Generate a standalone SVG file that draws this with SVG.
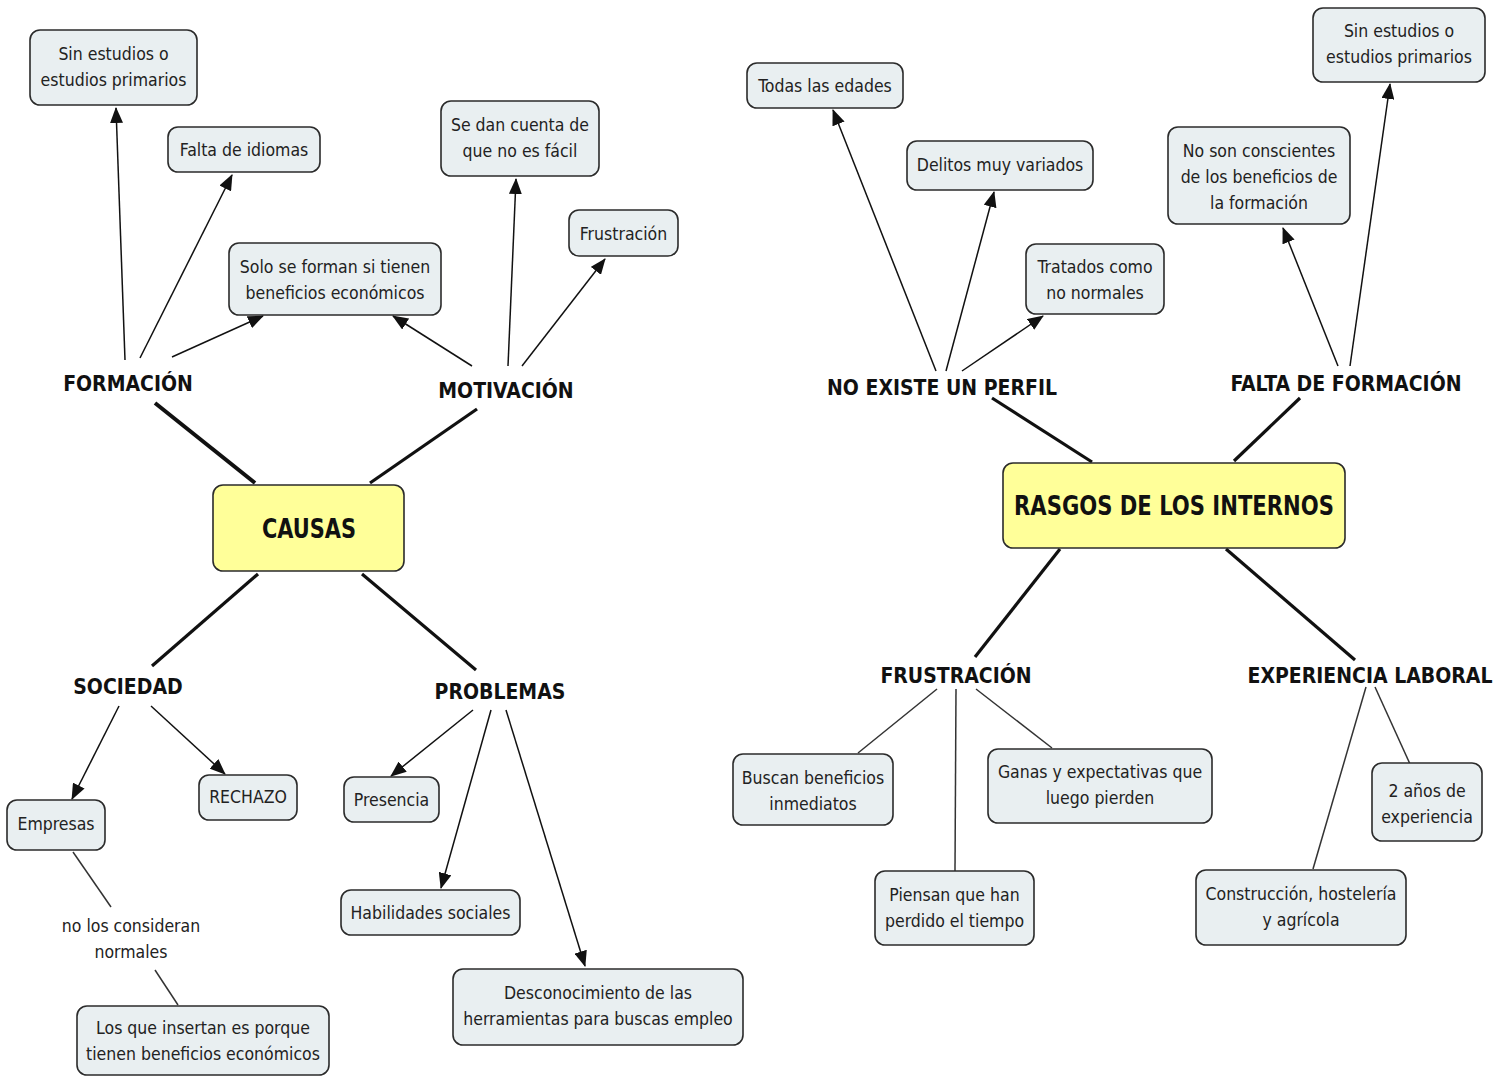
<svg xmlns="http://www.w3.org/2000/svg" width="1505" height="1077" viewBox="0 0 1505 1077">
  <style>
    .box { fill: #e9eff1; stroke: #2b2b2b; stroke-width: 1.6; }
    .main { fill: #ffff99; stroke: #2b2b2b; stroke-width: 1.6; }
    .t { font-family: "DejaVu Sans Condensed", "DejaVu Sans", sans-serif; font-stretch: condensed; font-size: 17.5px; fill: #222; text-anchor: middle; }
    .lbl { font-family: "DejaVu Sans Condensed", "DejaVu Sans", sans-serif; font-stretch: condensed; font-weight: bold; font-size: 21px; fill: #111; text-anchor: middle; }
    .big { font-family: "DejaVu Sans Condensed", "DejaVu Sans", sans-serif; font-stretch: condensed; font-weight: bold; font-size: 27px; fill: #111; text-anchor: middle; }
    .thick { stroke: #111; stroke-width: 3.2; fill: none; }
    .arr { stroke: #111; stroke-width: 1.5; fill: none; marker-end: url(#ah); }
    .thin { stroke: #333; stroke-width: 1.5; fill: none; }
  </style>
  <defs>
    <marker id="ah" viewBox="0 0 16 13" refX="15" refY="6.5" markerWidth="16" markerHeight="13" markerUnits="userSpaceOnUse" orient="auto">
      <path d="M0,0 L16,6.5 L0,13 Z" fill="#111"/>
    </marker>
  </defs>
  <rect width="1505" height="1077" fill="#ffffff"/>

  <g id="connectors">
    <!-- CAUSAS branches -->
    <line class="thick" x1="255" y1="483" x2="155" y2="403" style="stroke-width:4"/>
    <line class="thick" x1="370" y1="483" x2="477" y2="409"/>
    <line class="thick" x1="258" y1="574" x2="152" y2="666"/>
    <line class="thick" x1="362" y1="574" x2="476" y2="670"/>
    <!-- FORMACIÓN -->
    <line class="arr" x1="125" y1="360" x2="116" y2="108"/>
    <line class="arr" x1="140" y1="358" x2="232" y2="175"/>
    <line class="arr" x1="172" y1="357" x2="263" y2="316"/>
    <!-- MOTIVACIÓN -->
    <line class="arr" x1="472" y1="366" x2="393" y2="316"/>
    <line class="arr" x1="508" y1="366" x2="516" y2="179"/>
    <line class="arr" x1="522" y1="366" x2="605" y2="259"/>
    <!-- SOCIEDAD -->
    <line class="arr" x1="119" y1="706" x2="72" y2="799"/>
    <line class="arr" x1="151" y1="706" x2="225" y2="774"/>
    <line class="thin" x1="73" y1="852" x2="111" y2="907"/>
    <line class="thin" x1="155" y1="970" x2="178" y2="1005"/>
    <!-- PROBLEMAS -->
    <line class="arr" x1="473" y1="710" x2="391" y2="776"/>
    <line class="arr" x1="491" y1="710" x2="441" y2="888"/>
    <line class="arr" x1="506" y1="710" x2="585" y2="966"/>

    <!-- RASGOS branches -->
    <line class="thick" x1="1092" y1="462" x2="992" y2="398"/>
    <line class="thick" x1="1234" y1="461" x2="1300" y2="398"/>
    <line class="thick" x1="1060" y1="549" x2="975" y2="657"/>
    <line class="thick" x1="1226" y1="549" x2="1355" y2="660"/>
    <!-- NO EXISTE UN PERFIL -->
    <line class="arr" x1="936" y1="371" x2="833" y2="110"/>
    <line class="arr" x1="946" y1="371" x2="994" y2="192"/>
    <line class="arr" x1="962" y1="371" x2="1043" y2="316"/>
    <!-- FALTA DE FORMACIÓN -->
    <line class="arr" x1="1338" y1="366" x2="1283" y2="228"/>
    <line class="arr" x1="1350" y1="366" x2="1390" y2="84"/>
    <!-- FRUSTRACIÓN -->
    <line class="thin" x1="937" y1="689" x2="858" y2="753"/>
    <line class="thin" x1="956" y1="689" x2="955" y2="871"/>
    <line class="thin" x1="976" y1="689" x2="1052" y2="748"/>
    <!-- EXPERIENCIA LABORAL -->
    <line class="thin" x1="1366" y1="687" x2="1313" y2="869"/>
    <line class="thin" x1="1375" y1="687" x2="1410" y2="764"/>
  </g>

  <!-- CAUSAS side -->
  <g id="causas">
    <rect class="main" x="213" y="485" width="191" height="86" rx="10"/>
    <text class="big" x="309" y="538" textLength="94" lengthAdjust="spacingAndGlyphs">CAUSAS</text>
  </g>
  <g id="formacion"><text class="lbl" x="128" y="391">FORMACIÓN</text></g>
  <g id="motivacion"><text class="lbl" x="506" y="398">MOTIVACIÓN</text></g>
  <g id="sociedad"><text class="lbl" x="128" y="694">SOCIEDAD</text></g>
  <g id="problemas"><text class="lbl" x="500" y="699">PROBLEMAS</text></g>

  <g id="sin-estudios-1">
    <rect class="box" x="30" y="30" width="167" height="75" rx="10"/>
    <text class="t" x="113.5" y="60">Sin estudios o</text>
    <text class="t" x="113.5" y="86">estudios primarios</text>
  </g>
  <g id="falta-idiomas">
    <rect class="box" x="168" y="127" width="152" height="45" rx="10"/>
    <text class="t" x="244" y="156">Falta de idiomas</text>
  </g>
  <g id="se-dan-cuenta">
    <rect class="box" x="441" y="101" width="158" height="75" rx="10"/>
    <text class="t" x="520" y="131">Se dan cuenta de</text>
    <text class="t" x="520" y="157">que no es fácil</text>
  </g>
  <g id="frustracion-1">
    <rect class="box" x="569" y="210" width="109" height="46" rx="10"/>
    <text class="t" x="623.5" y="240">Frustración</text>
  </g>
  <g id="solo-se-forman">
    <rect class="box" x="229" y="243" width="212" height="72" rx="10"/>
    <text class="t" x="335" y="273">Solo se forman si tienen</text>
    <text class="t" x="335" y="299">beneficios económicos</text>
  </g>
  <g id="empresas">
    <rect class="box" x="7" y="800" width="98" height="50" rx="10"/>
    <text class="t" x="56" y="830">Empresas</text>
  </g>
  <g id="rechazo">
    <rect class="box" x="199" y="775" width="98" height="45" rx="10"/>
    <text class="t" x="248" y="803">RECHAZO</text>
  </g>
  <g id="presencia">
    <rect class="box" x="344" y="777" width="95" height="45" rx="10"/>
    <text class="t" x="391.5" y="806">Presencia</text>
  </g>
  <g id="habilidades">
    <rect class="box" x="341" y="890" width="179" height="45" rx="10"/>
    <text class="t" x="430.5" y="919">Habilidades sociales</text>
  </g>
  <g id="no-los-consideran">
    <text class="t" x="131" y="932">no los consideran</text>
    <text class="t" x="131" y="958">normales</text>
  </g>
  <g id="los-que-insertan">
    <rect class="box" x="77" y="1006" width="252" height="69" rx="10"/>
    <text class="t" x="203" y="1034">Los que insertan es porque</text>
    <text class="t" x="203" y="1060">tienen beneficios económicos</text>
  </g>
  <g id="desconocimiento">
    <rect class="box" x="453" y="969" width="290" height="76" rx="10"/>
    <text class="t" x="598" y="999">Desconocimiento de las</text>
    <text class="t" x="598" y="1025">herramientas para buscas empleo</text>
  </g>

  <!-- RASGOS side -->
  <g id="rasgos">
    <rect class="main" x="1003" y="463" width="342" height="85" rx="10"/>
    <text class="big" x="1174" y="515" textLength="320" lengthAdjust="spacingAndGlyphs">RASGOS DE LOS INTERNOS</text>
  </g>
  <g id="no-existe"><text class="lbl" x="942" y="395">NO EXISTE UN PERFIL</text></g>
  <g id="falta-formacion"><text class="lbl" x="1346" y="391">FALTA DE FORMACIÓN</text></g>
  <g id="frustracion-2"><text class="lbl" x="956" y="683">FRUSTRACIÓN</text></g>
  <g id="experiencia"><text class="lbl" x="1370" y="683">EXPERIENCIA LABORAL</text></g>

  <g id="todas-edades">
    <rect class="box" x="747" y="63" width="156" height="45" rx="10"/>
    <text class="t" x="825" y="92">Todas las edades</text>
  </g>
  <g id="delitos">
    <rect class="box" x="907" y="141" width="186" height="49" rx="10"/>
    <text class="t" x="1000" y="171">Delitos muy variados</text>
  </g>
  <g id="tratados">
    <rect class="box" x="1026" y="244" width="138" height="70" rx="10"/>
    <text class="t" x="1095" y="273">Tratados como</text>
    <text class="t" x="1095" y="299">no normales</text>
  </g>
  <g id="no-son-conscientes">
    <rect class="box" x="1168" y="127" width="182" height="97" rx="10"/>
    <text class="t" x="1259" y="157">No son conscientes</text>
    <text class="t" x="1259" y="183">de los beneficios de</text>
    <text class="t" x="1259" y="209">la formación</text>
  </g>
  <g id="sin-estudios-2">
    <rect class="box" x="1313" y="8" width="172" height="74" rx="10"/>
    <text class="t" x="1399" y="37">Sin estudios o</text>
    <text class="t" x="1399" y="63">estudios primarios</text>
  </g>
  <g id="buscan">
    <rect class="box" x="733" y="754" width="160" height="71" rx="10"/>
    <text class="t" x="813" y="784">Buscan beneficios</text>
    <text class="t" x="813" y="810">inmediatos</text>
  </g>
  <g id="ganas">
    <rect class="box" x="988" y="749" width="224" height="74" rx="10"/>
    <text class="t" x="1100" y="778">Ganas y expectativas que</text>
    <text class="t" x="1100" y="804">luego pierden</text>
  </g>
  <g id="piensan">
    <rect class="box" x="875" y="871" width="159" height="74" rx="10"/>
    <text class="t" x="954.5" y="901">Piensan que han</text>
    <text class="t" x="954.5" y="927">perdido el tiempo</text>
  </g>
  <g id="dos-anos">
    <rect class="box" x="1372" y="763" width="110" height="78" rx="10"/>
    <text class="t" x="1427" y="797">2 años de</text>
    <text class="t" x="1427" y="823">experiencia</text>
  </g>
  <g id="construccion">
    <rect class="box" x="1196" y="870" width="210" height="75" rx="10"/>
    <text class="t" x="1301" y="900">Construcción, hostelería</text>
    <text class="t" x="1301" y="926">y agrícola</text>
  </g>
</svg>
